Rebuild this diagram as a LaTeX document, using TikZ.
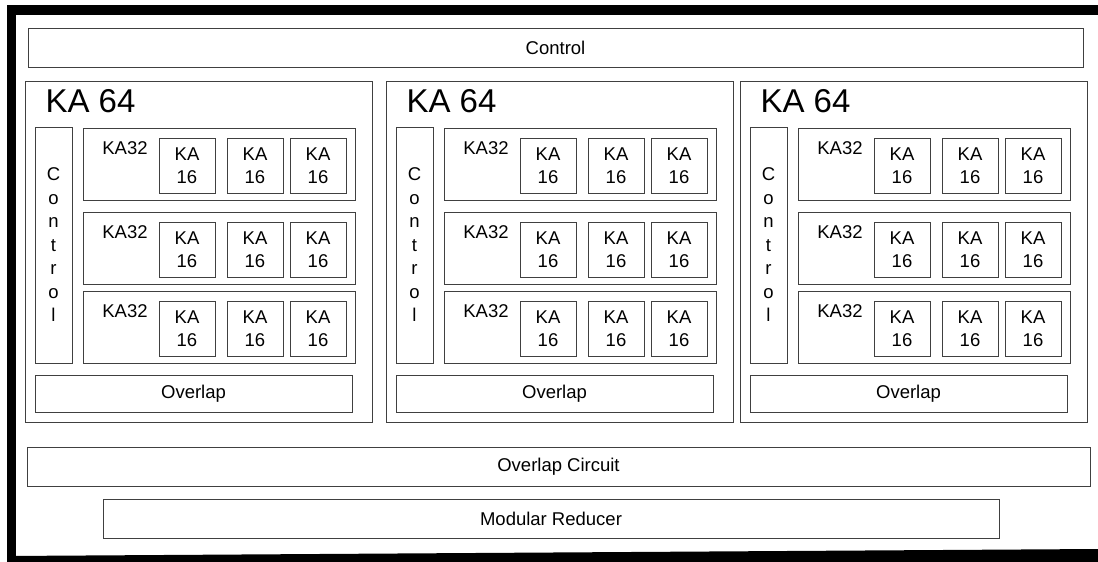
\documentclass[tikz,border=0pt]{standalone}
\usepackage{fontspec}
\setmainfont{Liberation Sans}
\usetikzlibrary{positioning}

\begin{document}
\begin{tikzpicture}[
    x=1pt, y=-1pt,
    font=\fontsize{18.5}{23}\selectfont,
    frame/.style={draw=black!75, line width=0.9pt, inner sep=0pt, align=center},
    kabox/.style={frame, minimum width=56pt, minimum height=55pt},
    wide/.style={frame, minimum height=39pt}
]
    \useasboundingbox (0,0) rectangle (1098,562);
    % thick outer border
    \fill (7,5) rectangle (1098,15);
    \fill (7,5) rectangle (16,562);
    \fill (7,556) -- (1098,549) -- (1098,562) -- (7,562) -- cycle;

    \node[wide, minimum width=1055pt] (ctl) at (555.5,47.5) {Control};

    \foreach \b/\dx in {1/0, 2/361, 3/715} {
        \node[frame, minimum width=347pt, minimum height=341pt] (blk\b)
            at (198.5+\dx,251.5) {};
        \node[anchor=base west, font=\fontsize{33}{40}\selectfont] (title\b)
            at (42+\dx,112) {KA 64};
        \node[frame, minimum width=37pt, minimum height=236pt,
              font=\fontsize{18.5}{23.5}\selectfont] (vctl\b)
            at (53.5+\dx,245) {C\\o\\n\\t\\r\\o\\l};
        \foreach \r/\y in {1/164, 2/248, 3/327} {
            \node[frame, minimum width=272pt, minimum height=72pt] (row\b-\r)
                at (219+\dx,\y) {};
            \node[anchor=base] (lbl\b-\r) at (125+\dx,\y-10) {KA32};
            \foreach \c/\xc in {1/187, 2/255, 3/318}
                \node[kabox] (ka\b-\r-\c) at (\xc+\dx,\y+2) {KA\\16};
        }
        \node[wide, minimum width=317pt, minimum height=37pt] (ovl\b)
            at (193.5+\dx,393.5) {Overlap};
    }

    \node[wide, minimum width=1063pt] (ovc) at (558.5,466.5) {Overlap Circuit};
    \node[wide, minimum width=896pt] (mred) at (551,518.5) {Modular Reducer};
\end{tikzpicture}
\end{document}
